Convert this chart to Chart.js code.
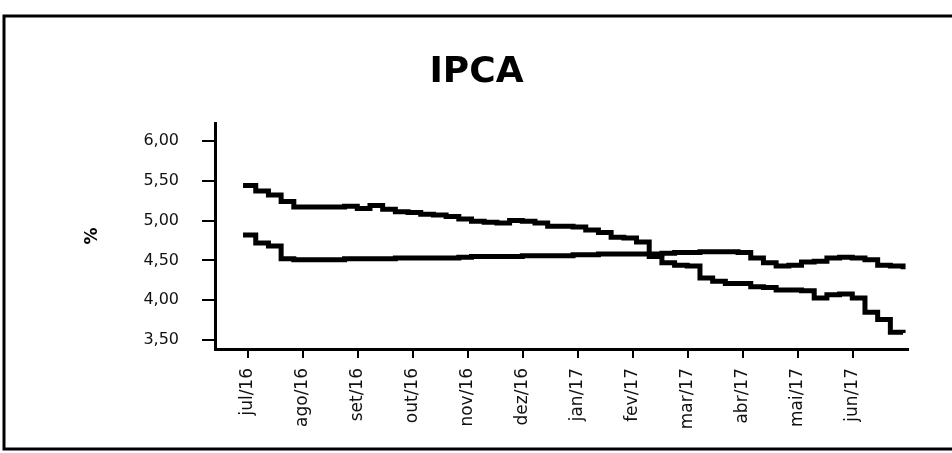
<!DOCTYPE html>
<html>
<head>
<meta charset="utf-8">
<script src="https://cdn.jsdelivr.net/npm/chart.js@4"></script>
<style>
  html, body { margin: 0; padding: 0; background: #fff; }
</style>
</head>
<body>
<canvas id="chart" width="952" height="453"></canvas>
<script>
const months = ['jul/16', 'ago/16', 'set/16', 'out/16', 'nov/16', 'dez/16',
                'jan/17', 'fev/17', 'mar/17', 'abr/17', 'mai/17', 'jun/17'];
const yTicks = [3.5, 4.0, 4.5, 5.0, 5.5, 6.0];

// weekly readings, first one a few days before jul/16
const seriesA = [5.44, 5.37, 5.32, 5.24, 5.17, 5.17, 5.17, 5.17, 5.18, 5.15, 5.19, 5.14, 5.11,
                 5.10, 5.08, 5.07, 5.05, 5.02, 4.99, 4.98, 4.97, 5.00, 4.99, 4.97, 4.93, 4.93,
                 4.92, 4.88, 4.85, 4.79, 4.78, 4.73, 4.55, 4.47, 4.44, 4.43, 4.28, 4.24, 4.21,
                 4.21, 4.17, 4.16, 4.13, 4.13, 4.12, 4.03, 4.07, 4.08, 4.03, 3.85, 3.76, 3.60, 3.59];
const seriesB = [4.82, 4.72, 4.68, 4.52, 4.51, 4.51, 4.51, 4.51, 4.52, 4.52, 4.52, 4.52, 4.53,
                 4.53, 4.53, 4.53, 4.53, 4.54, 4.55, 4.55, 4.55, 4.55, 4.56, 4.56, 4.56, 4.56,
                 4.57, 4.57, 4.58, 4.58, 4.58, 4.58, 4.58, 4.59, 4.60, 4.60, 4.61, 4.61, 4.61,
                 4.60, 4.53, 4.47, 4.43, 4.44, 4.48, 4.49, 4.53, 4.54, 4.53, 4.51, 4.44, 4.43, 4.39];

const firstWeek = -0.09;   // in months, relative to jul/16
const weekStep = 12 / 52;

function toPoints(values) {
  return values.map((v, i) => ({ x: firstWeek + i * weekStep, y: v }));
}

const frame = {
  id: 'frame',
  beforeDraw(chart) {
    const ctx = chart.ctx;
    ctx.save();
    ctx.fillStyle = '#fff';
    ctx.fillRect(0, 0, chart.width, chart.height);
    ctx.strokeStyle = '#000';
    ctx.lineWidth = 3;
    ctx.strokeRect(4, 16, 980, 433);
    ctx.restore();
  }
};

const lineStyle = {
  borderColor: '#000',
  borderWidth: 5,
  pointRadius: 0,
  stepped: true,
  fill: false,
  borderJoinStyle: 'miter',
  borderCapStyle: 'butt'
};

new Chart(document.getElementById('chart'), {
  type: 'line',
  data: {
    datasets: [
      Object.assign({ label: 'A', data: toPoints(seriesA) }, lineStyle),
      Object.assign({ label: 'B', data: toPoints(seriesB) }, lineStyle)
    ]
  },
  options: {
    responsive: false,
    animation: false,
    layout: { padding: { top: 17, left: 45, right: 44, bottom: 0 } },
    plugins: {
      legend: { display: false },
      tooltip: { enabled: false },
      title: {
        display: true,
        text: 'IPCA',
        color: '#000',
        font: { family: 'DejaVu Sans', size: 36, weight: 'bold' },
        padding: { top: 34, bottom: 29 }
      }
    },
    scales: {
      x: {
        type: 'linear',
        min: -0.6,
        max: 12,
        afterFit(scale) { scale.height = 104; },
        afterBuildTicks(scale) { scale.ticks = months.map((m, i) => ({ value: i })); },
        border: { display: true, color: '#000', width: 3 },
        grid: { drawOnChartArea: false, drawTicks: true, tickLength: 9, color: '#000', lineWidth: 2 },
        ticks: {
          autoSkip: false,
          minRotation: 90,
          maxRotation: 90,
          padding: 10,
          color: '#111',
          font: { family: 'DejaVu Sans', size: 17 },
          callback: (v) => months[v]
        }
      },
      y: {
        min: 3.39,
        max: 6.22,
        afterFit(scale) { scale.width = 170; },
        afterBuildTicks(scale) { scale.ticks = yTicks.map(v => ({ value: v })); },
        border: { display: true, color: '#000', width: 3 },
        grid: { drawOnChartArea: false, drawTicks: true, tickLength: 13, color: '#000', lineWidth: 2 },
        title: {
          display: true,
          text: '%',
          color: '#000',
          font: { family: 'DejaVu Sans', size: 17, weight: 'bold' },
          padding: { top: 37 }
        },
        ticks: {
          padding: 23,
          color: '#111',
          font: { family: 'DejaVu Sans', size: 16 },
          callback: (v) => v.toFixed(2).replace('.', ',')
        }
      }
    }
  },
  plugins: [frame]
});
</script>
</body>
</html>
